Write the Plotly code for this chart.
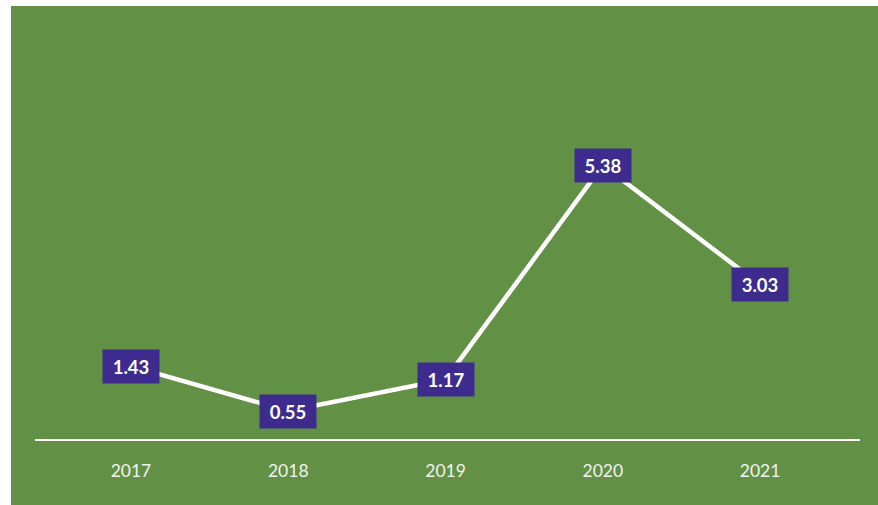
import plotly.graph_objects as go

# Yearly values shown on the line
years = ["2017", "2018", "2019", "2020", "2021"]
values = [1.43, 0.55, 1.17, 5.38, 3.03]

GREEN = "#629044"
LABEL_BG = "#3D2C8D"

W, H = 878, 505
L, R, T, B = 35, 18, 6, 66
pw = W - L - R
ph = H - T - B

fig = go.Figure()

fig.add_trace(go.Scatter(
    x=list(range(len(years))),
    y=values,
    mode="lines",
    line=dict(color="white", width=4.5),
    hoverinfo="skip",
    showlegend=False,
))

# Value labels in filled boxes centred on each point
for i, v in enumerate(values):
    fig.add_annotation(
        x=i, y=v, text=f"<b>{v:.2f}</b>", showarrow=False,
        font=dict(family="Lato", size=18.5, color="white"),
        bgcolor=LABEL_BG, width=56, height=33, borderpad=0,
        xanchor="center", yanchor="middle", align="center",
    )

# Green panel behind the chart, inset from the top-left corner
fig.add_shape(
    type="rect", xref="paper", yref="paper", layer="below",
    x0=(11 - L) / pw, x1=(W - L) / pw,
    y0=-B / ph, y1=1,
    fillcolor=GREEN, line=dict(width=0),
)

fig.update_layout(
    width=W, height=H,
    margin=dict(l=L, r=R, t=T, b=B),
    paper_bgcolor="white",
    plot_bgcolor=GREEN,
    showlegend=False,
    xaxis=dict(
        range=[-0.61, 4.635],
        tickmode="array",
        tickvals=list(range(len(years))),
        ticktext=years,
        showgrid=False, zeroline=False,
        showline=True, linecolor="white", linewidth=2,
        ticks="", ticklabelstandoff=15,
        tickfont=dict(family="Lato", size=17.5, color="#F2F2F2"),
        fixedrange=True,
    ),
    yaxis=dict(
        range=[0, ph / 50.9],
        visible=False, showgrid=False, zeroline=False,
        fixedrange=True,
    ),
)

fig.write_html("out.html")
